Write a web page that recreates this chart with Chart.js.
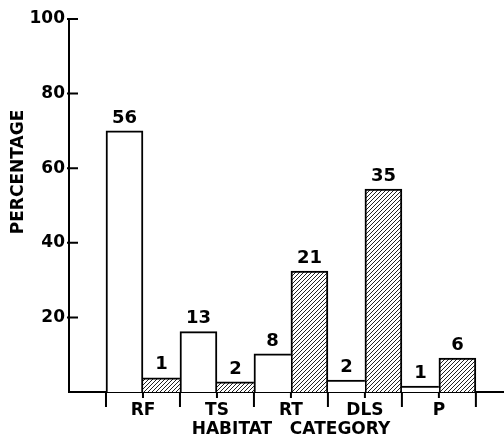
<!DOCTYPE html>
<html>
<head>
<meta charset="utf-8">
<script src="https://cdn.jsdelivr.net/npm/chart.js@4.4.1/dist/chart.umd.min.js"></script>
<style>
  html, body { margin: 0; padding: 0; background: #fff; }
  #wrap { width: 504px; height: 438px; }
</style>
</head>
<body>
<div id="wrap"><canvas id="habitatChart"></canvas></div>
<script>
// habitat categories on the x axis
const categories = ['RF', 'TS', 'RT', 'DLS', 'P'];
// bar heights (percent)
const openPct = [70, 16.2, 10.2, 3.2, 1.6];
const hatchPct = [3.8, 2.7, 32.4, 54.4, 9.1];
// numbers printed above each bar
const openCounts = [56, 13, 8, 2, 1];
const hatchCounts = [1, 2, 21, 35, 6];
// y axis tick labels
const yTicks = [0, 20, 40, 60, 80, 100];

const FONT = 'DejaVu Sans';

// diagonal hatching for the second series
function makeHatch() {
    const s = 4;
    const c = document.createElement('canvas');
    c.width = s; c.height = s;
    const g = c.getContext('2d');
    g.fillStyle = '#fff';
    g.fillRect(0, 0, s, s);
    g.strokeStyle = '#222';
    g.lineWidth = 1;
    g.beginPath();
    g.moveTo(0, s); g.lineTo(s, 0);
    g.moveTo(-1, 1); g.lineTo(1, -1);
    g.moveTo(s - 1, s + 1); g.lineTo(s + 1, s - 1);
    g.stroke();
    return g.createPattern(c, 'repeat');
}

// all bars sit side by side in one row, so only the taller neighbour draws a shared edge
const row = [];
openPct.forEach((v, i) => { row.push(v, hatchPct[i]); });
function edges(ctx) {
    const k = ctx.dataIndex * 2 + ctx.datasetIndex;
    const h = row[k];
    const left = k === 0 ? 2 : (h >= row[k - 1] ? 2 : 0);
    const right = k === row.length - 1 ? 2 : (h > row[k + 1] ? 2 : 0);
    return { top: 2, left, right, bottom: 0 };
}

// tick marks: inward dashes on y, long marks at bar edges and short ones at category centres on x
const axisMarks = {
    id: 'axisMarks',
    afterDraw(chart) {
        const { ctx, scales: { x, y } } = chart;
        ctx.save();
        ctx.strokeStyle = '#000';
        ctx.lineWidth = 2;
        ctx.beginPath();
        yTicks.forEach(v => {
            if (v === 0) return;
            const py = y.getPixelForValue(v);
            ctx.moveTo(x.left - 2, py);
            ctx.lineTo(x.left + 9, py);
        });
        categories.forEach((c, i) => {
            const mid = i + 1;
            [mid - 0.5, mid + 0.5].forEach(e => {
                const px = x.getPixelForValue(e);
                ctx.moveTo(px, y.bottom);
                ctx.lineTo(px, y.bottom + 15);
            });
            const pm = x.getPixelForValue(mid);
            ctx.moveTo(pm, y.bottom);
            ctx.lineTo(pm, y.bottom + 6);
        });
        ctx.stroke();

        // axis titles
        ctx.fillStyle = '#000';
        ctx.font = 'bold 17px "' + FONT + '"';
        ctx.textAlign = 'center';
        ctx.textBaseline = 'middle';
        ctx.fillText('HABITAT   CATEGORY', 291, 430);
        ctx.translate(19, 172);
        ctx.rotate(-Math.PI / 2);
        ctx.fillText('PERCENTAGE', 0, 0);
        ctx.restore();
    }
};

// counts above the bars
const barCounts = {
    id: 'barCounts',
    afterDatasetsDraw(chart) {
        const { ctx } = chart;
        ctx.save();
        ctx.fillStyle = '#000';
        ctx.font = 'bold 18px "' + FONT + '"';
        ctx.textAlign = 'center';
        ctx.textBaseline = 'bottom';
        chart.data.datasets.forEach((ds, di) => {
            chart.getDatasetMeta(di).data.forEach((bar, i) => {
                ctx.fillText(String(ds.counts[i]), bar.x, bar.y - 4);
            });
        });
        ctx.restore();
    }
};

const tickFont = { family: FONT, size: 17, weight: 'bold' };

new Chart(document.getElementById('habitatChart'), {
    type: 'bar',
    data: {
        datasets: [{
            data: openPct.map((v, i) => ({ x: i + 1, y: v })),
            counts: openCounts,
            backgroundColor: '#fff',
            borderColor: '#000',
            borderWidth: edges
        }, {
            data: hatchPct.map((v, i) => ({ x: i + 1, y: v })),
            counts: hatchCounts,
            backgroundColor: makeHatch(),
            borderColor: '#000',
            borderWidth: edges
        }]
    },
    options: {
        responsive: true,
        maintainAspectRatio: false,
        animation: false,
        categoryPercentage: 1,
        barPercentage: 1,
        layout: { padding: { top: 19, right: 0, bottom: 0, left: 0 } },
        plugins: { legend: { display: false }, tooltip: { enabled: false } },
        scales: {
            x: {
                type: 'linear',
                min: 0,
                max: 5.88,
                offset: false,
                z: 1,
                afterBuildTicks: s => { s.ticks = categories.map((c, i) => ({ value: i + 1 })); },
                afterFit: s => { s.height = 46; },
                grid: { display: false, drawTicks: false },
                border: { display: true, color: '#000', width: 2 },
                ticks: {
                    autoSkip: false,
                    maxRotation: 0,
                    padding: 8,
                    color: '#000',
                    font: tickFont,
                    callback: v => categories[v - 1] || ''
                }
            },
            y: {
                min: 0,
                max: 100,
                z: 1,
                afterBuildTicks: s => { s.ticks = yTicks.map(v => ({ value: v })); },
                afterFit: s => { s.width = 69; },
                grid: { display: false, drawTicks: false },
                border: { display: true, color: '#000', width: 2 },
                ticks: {
                    padding: 4,
                    color: '#000',
                    font: tickFont,
                    callback: v => (v === 0 ? '' : v)
                }
            }
        }
    },
    plugins: [axisMarks, barCounts]
});
</script>
</body>
</html>
